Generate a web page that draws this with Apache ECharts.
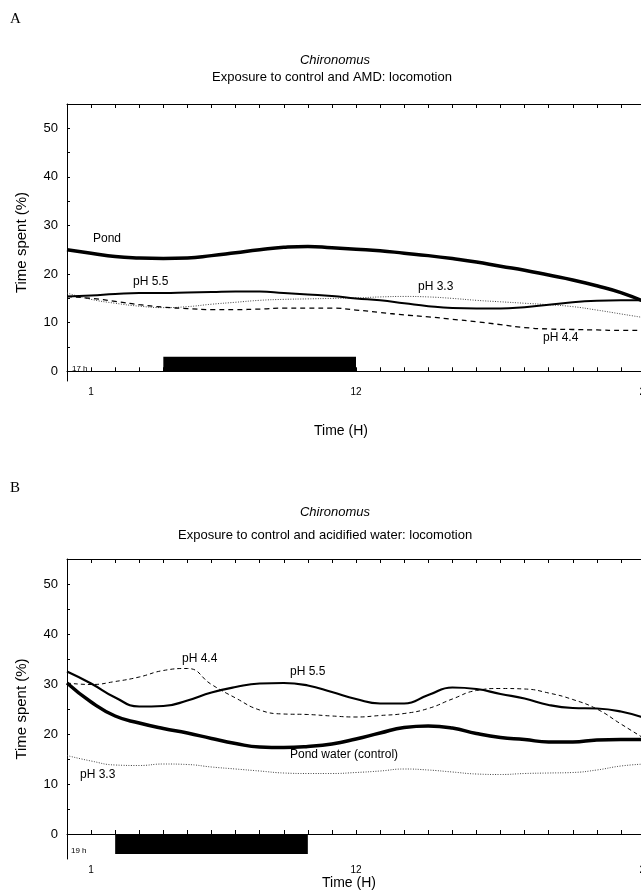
<!DOCTYPE html>
<html>
<head>
<meta charset="utf-8">
<script src="https://cdn.jsdelivr.net/npm/echarts@6/dist/echarts.min.js"></script>
<style>
html,body{margin:0;padding:0;background:#fff;overflow:hidden;width:641px;height:892px;}
#c{width:670px;height:892px;}
</style>
</head>
<body>
<div id="c"></div>
<script>
// ---- data ----
const hours = [0,1,2,3,4,5,6,7,8,9,10,11,12,13,14,15,16,17,18,19,20,21,22,23,24];
// Panel A: exposure to control and AMD
const pondA = [25.0,24.3,23.6,23.3,23.2,23.3,23.8,24.4,25.0,25.5,25.7,25.4,25.1,24.8,24.3,23.8,23.2,22.5,21.6,20.8,19.8,18.8,17.6,16.2,14.3];
const ph55A = [15.4,15.6,15.9,16.1,16.1,16.2,16.3,16.4,16.4,16.1,15.8,15.5,15.0,14.6,14.0,13.4,13.0,12.9,12.9,13.2,13.7,14.2,14.5,14.6,14.6];
const ph33A = [16.1,14.8,14.0,13.4,13.1,13.3,13.8,14.2,14.6,14.8,14.9,15.0,15.1,15.3,15.4,15.3,15.0,14.6,14.3,14.0,13.7,13.3,12.6,11.8,11.0];
const ph44A = [15.4,15.0,14.4,13.7,13.2,12.9,12.7,12.7,12.8,13.0,13.0,13.0,12.6,12.1,11.6,11.2,10.7,10.2,9.6,9.0,8.7,8.6,8.5,8.4,8.4];
// Panel B: exposure to control and acidified water
const pondB = [30.2,26.4,23.6,22.2,21.1,20.2,19.1,18.1,17.4,17.3,17.5,18.0,19.0,20.2,21.3,21.6,21.2,20.1,19.3,18.9,18.4,18.4,18.8,18.9,18.9];
const ph55B = [32.5,30.1,27.3,25.5,25.6,26.7,28.3,29.4,30.1,30.2,29.7,28.4,27.0,26.1,26.1,27.8,29.3,29.0,28.0,27.1,25.8,25.2,25.1,24.5,23.2];
const ph44B = [30.2,29.9,30.5,31.4,32.7,33.1,29.9,27.2,24.8,24.0,23.9,23.6,23.4,23.7,24.1,25.1,27.0,28.7,29.1,29.0,28.2,26.9,25.0,22.0,19.0];
const ph33B = [15.7,14.6,13.8,13.7,14.0,13.9,13.4,13.0,12.6,12.2,12.1,12.1,12.3,12.6,13.0,12.8,12.4,12.0,11.9,12.1,12.2,12.3,12.8,13.6,14.0];
// dark (night) bars: [startHour, endHour, low, high]
const darkA = [4, 12, 0, 3];
const darkB = [2, 10, -4, 0];
// tick labels
const xLabels = [1, 12, 24];
const yLabels = [0, 10, 20, 30, 40, 50];
const yTicks = [0, 5, 10, 15, 20, 25, 30, 35, 40, 45, 50];

const pairs = arr => hours.map((h, i) => [h, arr[i]]);
const FONT = 'Liberation Sans, Arial, sans-serif';

function xAx(grid, top) {
  return {
    type: 'value', gridIndex: grid, min: 0, max: 24,
    position: top ? 'top' : 'bottom',
    axisLine: {show: true, lineStyle: {color: '#000', width: 1}},
    axisTick: {show: true, inside: true, length: 4, customValues: hours, lineStyle: {color: '#000'}},
    axisLabel: {show: !top, customValues: xLabels, color: '#000', fontSize: 10, fontFamily: FONT, margin: 6},
    splitLine: {show: false}
  };
}
function yAx(grid, min) {
  return {
    type: 'value', gridIndex: grid, min: min, max: 55,
    name: 'Time spent (%)', nameLocation: 'middle', nameGap: 38,
    nameTextStyle: {fontSize: 15, fontFamily: FONT, color: '#000'},
    axisLine: {show: true, lineStyle: {color: '#000', width: 1}},
    axisTick: {show: true, inside: true, length: 3, customValues: yTicks, lineStyle: {color: '#000'}},
    axisLabel: {customValues: yLabels, color: '#000', fontSize: 13, fontFamily: FONT, margin: 9},
    splitLine: {show: false}
  };
}
function line(name, arr, xi, yi, style) {
  return {
    name: name, type: 'line', xAxisIndex: xi, yAxisIndex: yi,
    data: pairs(arr), smooth: 0.5, showSymbol: false, symbol: 'none',
    lineStyle: style, silent: true, z: 3
  };
}
function darkBar(b, xi, yi) {
  return {
    type: 'line', xAxisIndex: xi, yAxisIndex: yi, data: [], silent: true,
    markArea: {
      silent: true,
      itemStyle: {color: '#000', opacity: 1},
      data: [[{coord: [b[0], b[2]]}, {coord: [b[1], b[3]]}]]
    }
  };
}
function txt(t, x, y, size, extra) {
  return Object.assign({
    type: 'text', left: x, top: y,
    style: {text: t, fill: '#000', font: (size || 12) + 'px ' + FONT}
  }, extra || {});
}

const chart = echarts.init(document.getElementById('c'), null, {renderer: 'canvas'});
chart.setOption({
  animation: false,
  backgroundColor: '#fff',
  grid: [
    {left: 67, top: 104, width: 578, height: 277},
    {left: 67, top: 559, width: 578, height: 300}
  ],
  xAxis: [xAx(0, false), xAx(0, true), xAx(1, false), xAx(1, true)],
  yAxis: [yAx(0, -2), yAx(1, -5)],
  series: [
    darkBar(darkA, 0, 0),
    line('pH 3.3', ph33A, 0, 0, {color: '#444', width: 1, type: [1, 1.5]}),
    line('pH 4.4', ph44A, 0, 0, {color: '#000', width: 1.3, type: [5, 4]}),
    line('pH 5.5', ph55A, 0, 0, {color: '#000', width: 2}),
    line('Pond', pondA, 0, 0, {color: '#000', width: 3.5}),
    darkBar(darkB, 2, 1),
    line('pH 3.3', ph33B, 2, 1, {color: '#444', width: 1, type: [1, 1.5]}),
    line('pH 4.4', ph44B, 2, 1, {color: '#000', width: 1, type: [4, 3]}),
    line('pH 5.5', ph55B, 2, 1, {color: '#000', width: 2.2}),
    line('Pond water (control)', pondB, 2, 1, {color: '#000', width: 3.5})
  ],
  graphic: [
    txt('A', 10, 12, 15, {style: {text: 'A', fill: '#000', font: '15px Liberation Serif, serif'}}),
    {type: 'text', left: 'center', top: 54, style: {text: 'Chironomus', fill: '#000', font: 'italic 13px ' + FONT}, x: 25},
    txt('Exposure to control and AMD: locomotion', 212, 71, 13),
    txt('Pond', 93, 233, 12),
    txt('pH 5.5', 133, 276, 12),
    txt('pH 3.3', 418, 281, 12),
    txt('pH 4.4', 543, 332, 12),
    txt('17 h', 72, 365, 8),
    txt('Time (H)', 314, 424, 14),
    txt('B', 10, 481, 15, {style: {text: 'B', fill: '#000', font: '15px Liberation Serif, serif'}}),
    {type: 'text', left: 'center', top: 506, style: {text: 'Chironomus', fill: '#000', font: 'italic 13px ' + FONT}, x: 25},
    txt('Exposure to control and acidified water: locomotion', 178, 529, 13),
    txt('pH 4.4', 182, 653, 12),
    txt('pH 5.5', 290, 666, 12),
    txt('Pond water (control)', 290, 749, 12),
    txt('pH 3.3', 80, 769, 12),
    txt('19 h', 71, 847, 8),
    txt('Time (H)', 322, 876, 14)
  ]
});
</script>
</body>
</html>
